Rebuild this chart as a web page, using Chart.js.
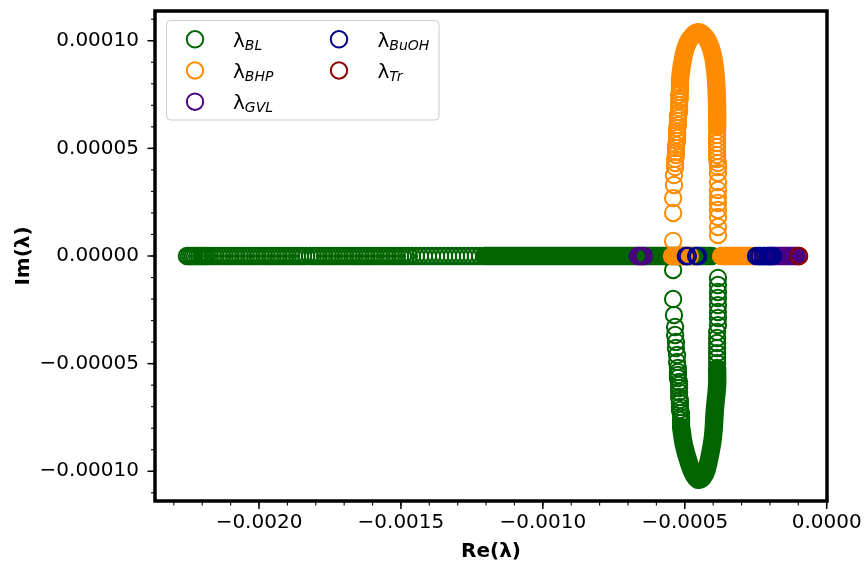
<!DOCTYPE html>
<html>
<head>
<meta charset="utf-8">
<script src="https://cdn.jsdelivr.net/npm/chart.js@4.4.1/dist/chart.umd.min.js"></script>
<style>
  body { margin: 0; background: #fff; }
  canvas { display: block; }
</style>
</head>
<body>
<canvas id="chart" width="864" height="562"></canvas>
<script>
// eigenvalues λ = Re + i·Im of each species
const seriesNames = ['BL', 'BHP', 'GVL', 'BuOH', 'Tr'];
const seriesColors = ['#006400', '#ff8c00', '#4b0082', '#00008b', '#8b0000'];

const xTicks = [-0.0020, -0.0015, -0.0010, -0.0005, 0.0];
const xTickLabels = ['\u22120.0020', '\u22120.0015', '\u22120.0010', '\u22120.0005', '0.0000'];
const yTicks = [-0.00010, -0.00005, 0.0, 0.00005, 0.00010];
const yTickLabels = ['\u22120.00010', '\u22120.00005', '0.00000', '0.00005', '0.00010'];

// BL: real eigenvalues (Im = 0)
const blReal = [
  -0.002254, -0.002247, -0.002240, -0.002233, -0.002226, -0.002218, -0.002211, -0.002204,
  -0.002197, -0.002190, -0.002183, -0.002173, -0.002162, -0.002152, -0.002141, -0.002130,
  -0.002120, -0.002109, -0.002099, -0.002088, -0.002078, -0.002067, -0.002056, -0.002046,
  -0.002035, -0.002025, -0.002014, -0.002004, -0.001993, -0.001982, -0.001972, -0.001961,
  -0.001951, -0.001940, -0.001930, -0.001919, -0.001908, -0.001898, -0.001887, -0.001877,
  -0.001866, -0.001856, -0.001845, -0.001834, -0.001820, -0.001810, -0.001799, -0.001789,
  -0.001778, -0.001768, -0.001757, -0.001746, -0.001736, -0.001725, -0.001715, -0.001704,
  -0.001694, -0.001683, -0.001672, -0.001662, -0.001651, -0.001641, -0.001630, -0.001620,
  -0.001609, -0.001598, -0.001588, -0.001577, -0.001567, -0.001556, -0.001546, -0.001535,
  -0.001524, -0.001514, -0.001503, -0.001493, -0.001482, -0.001472, -0.001461, -0.001447,
  -0.001433, -0.001419, -0.001405, -0.001391, -0.001376, -0.001362, -0.001348, -0.001334,
  -0.001320, -0.001306, -0.001292, -0.001278, -0.001264, -0.001250, -0.001236, -0.001221
];
// BL: complex branch (lower half plane), [Re, Im]
const blComplex = [
  [-0.000541, -0.0000065], [-0.000541, -0.0000200], [-0.000538, -0.0000274], [-0.000534, -0.0000330],
  [-0.000534, -0.0000367], [-0.000531, -0.0000399], [-0.000531, -0.0000427], [-0.000527, -0.0000460],
  [-0.000527, -0.0000492], [-0.000524, -0.0000520], [-0.000524, -0.0000539], [-0.000524, -0.0000553],
  [-0.000524, -0.0000567], [-0.000520, -0.0000585], [-0.000520, -0.0000599], [-0.000520, -0.0000613],
  [-0.000520, -0.0000632], [-0.000520, -0.0000655], [-0.000517, -0.0000669], [-0.000517, -0.0000683],
  [-0.000517, -0.0000701], [-0.000517, -0.0000715], [-0.000513, -0.0000729], [-0.000513, -0.0000748],
  [-0.000513, -0.0000762], [-0.000513, -0.0000776],
  [-0.000383, -0.0000102], [-0.000383, -0.0000135], [-0.000383, -0.0000167], [-0.000383, -0.0000195],
  [-0.000383, -0.0000228], [-0.000383, -0.0000260], [-0.000383, -0.0000288], [-0.000383, -0.0000321],
  [-0.000386, -0.0000353], [-0.000386, -0.0000381], [-0.000386, -0.0000404], [-0.000386, -0.0000427],
  [-0.000386, -0.0000451], [-0.000386, -0.0000474], [-0.000386, -0.0000497]
];
// BL: runs where the circles pile up into a solid band (path through the centres)
const blRuns = [
  [[-0.001207, 0], [-0.000404, 0]],
  [[-0.000513, -0.0000794], [-0.000503, -0.0000878], [-0.000485, -0.0000962], [-0.000468, -0.0001017],
   [-0.000450, -0.0001040], [-0.000429, -0.0001013], [-0.000415, -0.0000948], [-0.000401, -0.0000845],
   [-0.000394, -0.0000715], [-0.000386, -0.0000599], [-0.000386, -0.0000520]]
];

// BHP
const bhpReal = [];
const bhpComplex = [
  [-0.000541, 0.0000070], [-0.000541, 0.0000200], [-0.000541, 0.0000269], [-0.000538, 0.0000330],
  [-0.000538, 0.0000376], [-0.000534, 0.0000413], [-0.000534, 0.0000432], [-0.000534, 0.0000451],
  [-0.000531, 0.0000469], [-0.000531, 0.0000483], [-0.000531, 0.0000502], [-0.000531, 0.0000516],
  [-0.000527, 0.0000534], [-0.000527, 0.0000548], [-0.000527, 0.0000562], [-0.000527, 0.0000576],
  [-0.000527, 0.0000595], [-0.000524, 0.0000608], [-0.000524, 0.0000627], [-0.000524, 0.0000641],
  [-0.000524, 0.0000655], [-0.000520, 0.0000669], [-0.000520, 0.0000687], [-0.000520, 0.0000701],
  [-0.000520, 0.0000720], [-0.000517, 0.0000734], [-0.000520, 0.0000748], [-0.000517, 0.0000762],
  [-0.000517, 0.0000776], [-0.000517, 0.0000790], [-0.000517, 0.0000804],
  [-0.000386, 0.0000581], [-0.000386, 0.0000562], [-0.000386, 0.0000543], [-0.000386, 0.0000525],
  [-0.000386, 0.0000506], [-0.000386, 0.0000488], [-0.000386, 0.0000469], [-0.000386, 0.0000451],
  [-0.000383, 0.0000432], [-0.000383, 0.0000413], [-0.000383, 0.0000386], [-0.000383, 0.0000344],
  [-0.000383, 0.0000307], [-0.000383, 0.0000274], [-0.000383, 0.0000246], [-0.000383, 0.0000214],
  [-0.000383, 0.0000181], [-0.000383, 0.0000135], [-0.000383, 0.0000098]
];
const bhpRuns = [
  [[-0.000545, 0], [-0.000482, 0]],
  [[-0.000372, 0], [-0.000253, 0]],
  [[-0.000517, 0.0000818], [-0.000510, 0.0000887], [-0.000499, 0.0000957], [-0.000482, 0.0001008],
   [-0.000453, 0.0001040], [-0.000425, 0.0001013], [-0.000404, 0.0000948], [-0.000393, 0.0000864],
   [-0.000388, 0.0000771], [-0.000386, 0.0000678], [-0.000386, 0.0000599]]
];

// GVL
const gvlReal = [-0.000665, -0.000658, -0.000651, -0.000644, -0.000235, -0.000221];
const gvlComplex = [];
const gvlRuns = [
  [[-0.000207, 0], [-0.000105, 0]]
];

// BuOH
const buohReal = [-0.000496, -0.000489, -0.000460, -0.000453,
                  -0.000249, -0.000242, -0.000235, -0.000226, -0.000217, -0.000210, -0.000203, -0.000196, -0.000189];
const buohComplex = [];
const buohRuns = [];

// Tr
const trReal = [-0.0000985, -0.0000970];
const trComplex = [];
const trRuns = [];

const xMin = -0.0023664, xMax = 0.0000011;
const yMin = -0.0001138, yMax = 0.0001138;

function toPoints(pairs) { return pairs.map(p => ({ x: p[0], y: p[1] })); }
function realPoints(vals) { return vals.map(v => ({ x: v, y: 0 })); }

const series = [
  { real: blReal, complex: blComplex, runs: blRuns },
  { real: bhpReal, complex: bhpComplex, runs: bhpRuns },
  { real: gvlReal, complex: gvlComplex, runs: gvlRuns },
  { real: buohReal, complex: buohComplex, runs: buohRuns },
  { real: trReal, complex: trComplex, runs: trRuns }
];

const R = 8.2;      // marker radius
const LW = 2.0;     // marker edge width

const datasets = [];
series.forEach((s, i) => {
  const color = seriesColors[i];
  const order = series.length - i;   // first series ends up underneath
  s.runs.forEach(run => {
    datasets.push({
      label: seriesNames[i] + '-band',
      data: toPoints(run),
      showLine: true,
      borderColor: color,
      borderWidth: 2 * R + LW,
      borderCapStyle: 'round',
      borderJoinStyle: 'round',
      tension: 0.4,
      pointRadius: 0,
      order: order
    });
  });
  datasets.push({
    label: seriesNames[i],
    data: realPoints(s.real).concat(toPoints(s.complex)),
    pointRadius: R,
    pointBorderWidth: LW,
    pointBorderColor: color,
    pointBackgroundColor: 'rgba(0,0,0,0)',
    order: order
  });
});

// minor tick positions
const xMinor = [];
for (let i = -23; i <= 0; i++) xMinor.push(i * 0.0001);
const yMinor = [];
for (let i = -11; i <= 11; i++) yMinor.push(i * 0.00001);

const decor = {
  id: 'decor',
  afterDatasetsDraw(chart) {
    const { ctx, chartArea: a, scales } = chart;
    ctx.save();
    ctx.strokeStyle = '#000';

    // ticks
    function tick(px, horizontal, len, w) {
      ctx.lineWidth = w;
      ctx.beginPath();
      if (horizontal) { ctx.moveTo(px, a.bottom); ctx.lineTo(px, a.bottom + len); }
      else { ctx.moveTo(a.left, px); ctx.lineTo(a.left - len, px); }
      ctx.stroke();
    }
    xMinor.forEach(v => tick(scales.x.getPixelForValue(v), true, 4.5, 1.1));
    yMinor.forEach(v => tick(scales.y.getPixelForValue(v), false, 4, 1.1));
    xTicks.forEach(v => tick(scales.x.getPixelForValue(v), true, 8, 1.5));
    yTicks.forEach(v => tick(scales.y.getPixelForValue(v), false, 7.5, 1.5));

    // frame
    ctx.lineWidth = 3.5;
    ctx.strokeRect(a.left, a.top, a.right - a.left, a.bottom - a.top);

    // axis titles
    ctx.fillStyle = '#000';
    ctx.font = 'bold 20px "DejaVu Sans"';
    ctx.textAlign = 'center';
    ctx.textBaseline = 'alphabetic';
    ctx.fillText('Re(\u03bb)', (a.left + a.right) / 2, 557);
    ctx.save();
    ctx.translate(28.5, (a.top + a.bottom) / 2);
    ctx.rotate(-Math.PI / 2);
    ctx.fillText('Im(\u03bb)', 0, 0);
    ctx.restore();

    // legend (two columns, filled column by column)
    ctx.fillStyle = 'rgba(255,255,255,0.8)';
    ctx.strokeStyle = '#cccccc';
    ctx.lineWidth = 1;
    ctx.beginPath();
    ctx.roundRect(166.5, 20.5, 272.5, 99.5, 4);
    ctx.fill();
    ctx.stroke();

    const colMarker = [195, 339];
    const colText = [233, 377.5];
    const rowY = [39.3, 70.5, 101.7];
    seriesNames.forEach((name, i) => {
      const col = Math.floor(i / 3), row = i % 3;
      ctx.strokeStyle = seriesColors[i];
      ctx.lineWidth = LW;
      ctx.beginPath();
      ctx.arc(colMarker[col], rowY[row], R, 0, Math.PI * 2);
      ctx.stroke();

      const base = rowY[row] + 7.3;
      ctx.fillStyle = '#000';
      ctx.textAlign = 'left';
      ctx.font = '20px "DejaVu Sans"';
      ctx.fillText('\u03bb', colText[col], base);
      const w = ctx.measureText('\u03bb').width;
      ctx.font = 'italic 14px "DejaVu Sans"';
      ctx.fillText(name, colText[col] + w, base + 3);
    });
    ctx.restore();
  }
};

Chart.defaults.font.family = '"DejaVu Sans"';
Chart.defaults.font.size = 20;
Chart.defaults.color = '#000';

new Chart(document.getElementById('chart'), {
  type: 'scatter',
  data: { datasets: datasets },
  options: {
    responsive: false,
    animation: false,
    events: [],
    layout: { padding: { top: 11, right: 37, left: 0, bottom: 0 } },
    plugins: { legend: { display: false }, tooltip: { enabled: false } },
    scales: {
      x: {
        type: 'linear',
        min: xMin,
        max: xMax,
        afterFit: s => { s.height = 61; s.paddingLeft = 0; s.paddingRight = 0; },
        afterBuildTicks: s => { s.ticks = xTicks.map(v => ({ value: v })); },
        ticks: {
          autoSkip: false,
          maxRotation: 0,
          padding: 2,
          callback: (v, i) => xTickLabels[i]
        },
        grid: { drawOnChartArea: false, drawTicks: true, tickLength: 8, color: 'rgba(0,0,0,0)' },
        border: { display: false }
      },
      y: {
        type: 'linear',
        min: yMin,
        max: yMax,
        afterFit: s => { s.width = 155; s.paddingTop = 0; s.paddingBottom = 0; },
        afterBuildTicks: s => { s.ticks = yTicks.map(v => ({ value: v })); },
        ticks: {
          autoSkip: false,
          padding: 8,
          callback: (v, i) => yTickLabels[i]
        },
        grid: { drawOnChartArea: false, drawTicks: true, tickLength: 8, color: 'rgba(0,0,0,0)' },
        border: { display: false }
      }
    }
  },
  plugins: [decor]
});
</script>
</body>
</html>
